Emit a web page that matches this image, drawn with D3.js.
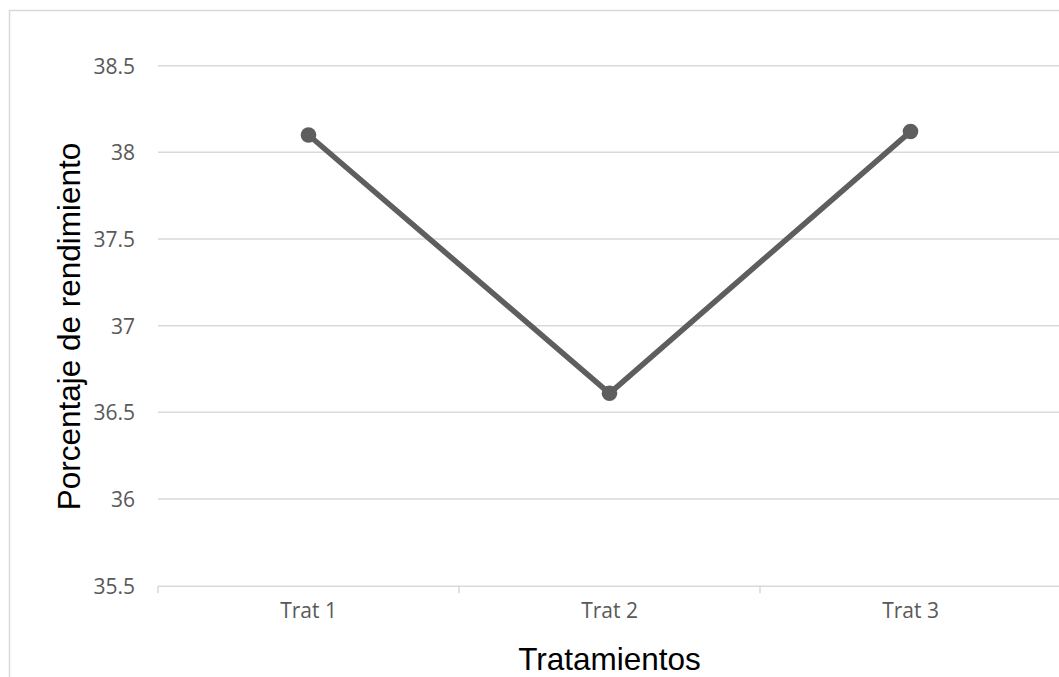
<!DOCTYPE html>
<html>
<head>
<meta charset="utf-8">
<script src="https://cdn.jsdelivr.net/npm/d3@7"></script>
<style>
  html, body { margin: 0; padding: 0; background: #ffffff; overflow: hidden; }
  svg { display: block; }
</style>
</head>
<body>
<svg id="chart" width="1059" height="677"></svg>
<script>
// Data
const categories = ["Trat 1", "Trat 2", "Trat 3"];
const values = [38.10, 36.61, 38.12];
const yTicks = [35.5, 36, 36.5, 37, 37.5, 38, 38.5];
const xTitle = "Tratamientos";
const yTitle = "Porcentaje de rendimiento";

const svg = d3.select("#chart");
const W = 1059, H = 677;
const plot = { left: 158, right: 1061, top: 65.7, bottom: 585.7 };

// Outer chart border (extends beyond the visible window)
svg.append("rect")
  .attr("x", 9.5).attr("y", 10.5)
  .attr("width", W + 20).attr("height", H + 20)
  .attr("fill", "#ffffff")
  .attr("stroke", "#d9d9d9").attr("stroke-width", 1.5);

const x = d3.scaleBand().domain(categories).range([plot.left, plot.right]).padding(0);
const y = d3.scaleLinear().domain([35.5, 38.5]).range([plot.bottom, plot.top]);

// Gridlines
svg.append("g").selectAll("line").data(yTicks.filter(d => d !== 35.5)).join("line")
  .attr("x1", plot.left).attr("x2", plot.right)
  .attr("y1", d => y(d)).attr("y2", d => y(d))
  .attr("stroke", "#d9d9d9").attr("stroke-width", 1.5);

// Y axis labels
const yAxis = d3.axisLeft(y).tickValues(yTicks).tickSize(0).tickPadding(23)
  .tickFormat(d => String(d));
const gy = svg.append("g").attr("transform", `translate(${plot.left},0)`).call(yAxis);
gy.select(".domain").remove();
gy.selectAll("text")
  .attr("font-family", "'Open Sans', sans-serif")
  .attr("font-size", 21)
  .attr("fill", "#595959")
  .attr("dy", "0.36em");

// X axis
const xAxis = d3.axisBottom(x).tickSize(0).tickPadding(17);
const gx = svg.append("g").attr("transform", `translate(0,${plot.bottom})`).call(xAxis);
gx.select(".domain").attr("stroke", "#d9d9d9").attr("stroke-width", 1.5);
gx.selectAll("text")
  .attr("font-family", "'Open Sans', sans-serif")
  .attr("font-size", 21)
  .attr("fill", "#595959")
  .attr("dy", "0.71em");
// Category boundary ticks
const bounds = categories.map(c => x(c)).concat([x(categories[categories.length - 1]) + x.bandwidth()]);
svg.append("g").selectAll("line").data(bounds).join("line")
  .attr("x1", d => d).attr("x2", d => d)
  .attr("y1", plot.bottom).attr("y2", plot.bottom + 7.5)
  .attr("stroke", "#d9d9d9").attr("stroke-width", 1.5);

// Line series
const pts = categories.map((c, i) => ({ c, v: values[i] }));
const line = d3.line().x(d => x(d.c) + x.bandwidth() / 2).y(d => y(d.v));
svg.append("path").datum(pts)
  .attr("d", line)
  .attr("fill", "none")
  .attr("stroke", "#5e5e5e")
  .attr("stroke-width", 5.5)
  .attr("stroke-linejoin", "round");
svg.append("g").selectAll("circle").data(pts).join("circle")
  .attr("cx", d => x(d.c) + x.bandwidth() / 2)
  .attr("cy", d => y(d.v))
  .attr("r", 7.8)
  .attr("fill", "#5e5e5e");

// Axis titles
svg.append("text")
  .attr("x", 609.5).attr("y", 670)
  .attr("text-anchor", "middle")
  .attr("font-family", "Arial, 'Liberation Sans', sans-serif")
  .attr("font-size", 31.5)
  .attr("fill", "#000000")
  .text(xTitle);

svg.append("text")
  .attr("transform", "translate(80,326.5) rotate(-90)")
  .attr("text-anchor", "middle")
  .attr("font-family", "Arial, 'Liberation Sans', sans-serif")
  .attr("font-size", 31.5)
  .attr("fill", "#000000")
  .text(yTitle);
</script>
</body>
</html>
